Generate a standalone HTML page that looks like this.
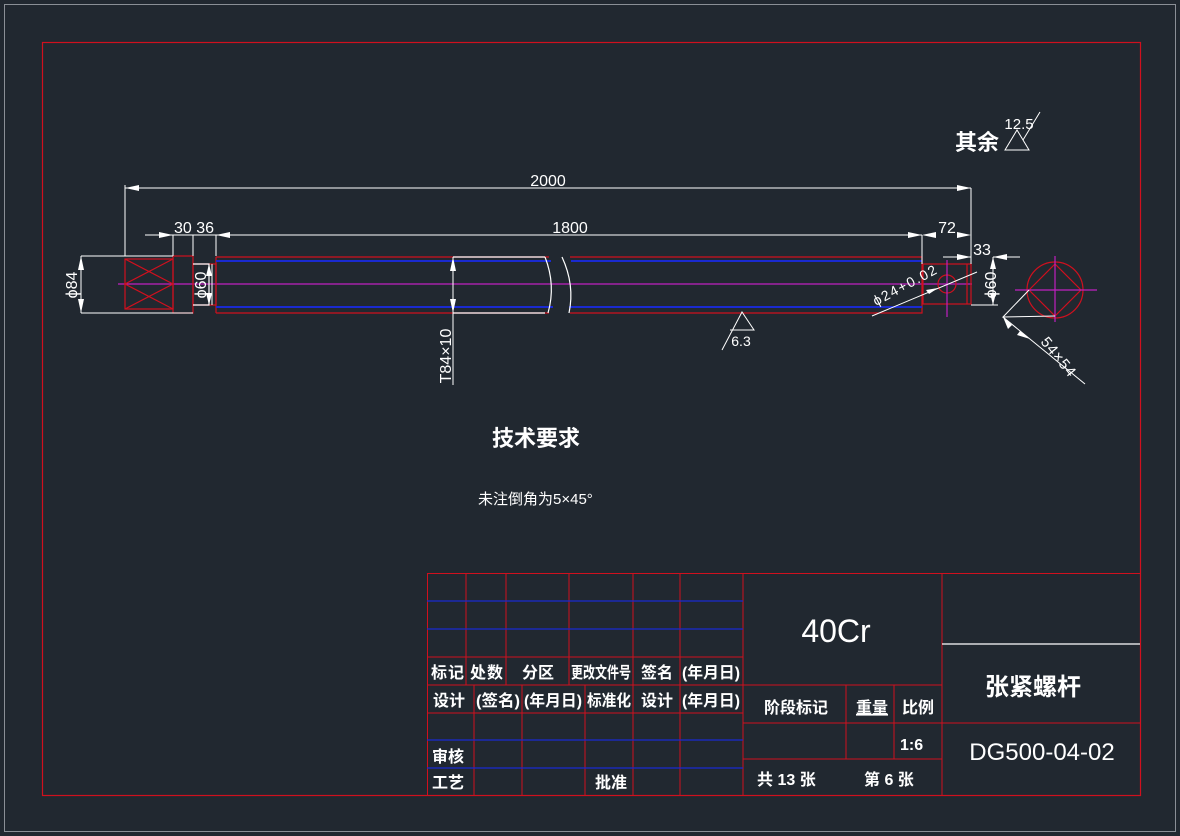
<!DOCTYPE html>
<html><head><meta charset="utf-8"><style>
html,body{margin:0;padding:0;background:#212830;}
svg{display:block}
text{font-family:"Liberation Sans Narrow","Liberation Sans","Noto Sans CJK SC",sans-serif;fill:#fff}
.tb{font-weight:bold}
</style></head><body>
<svg width="1180" height="836" viewBox="0 0 1180 836" xmlns="http://www.w3.org/2000/svg">
<rect width="1180" height="836" fill="#212830"/>
<rect x="4.5" y="4.5" width="1171" height="827" fill="none" stroke="#8a8f96" stroke-width="1"/>
<rect x="42.5" y="42.5" width="1098" height="753" fill="none" stroke="#d0101e" stroke-width="1.2"/>

<line x1="118" y1="284" x2="972" y2="284" stroke="#c020c0" stroke-width="1.2"/>

<g fill="none" stroke-width="1.2">
<rect x="125" y="259" width="48" height="50" stroke="#d0101e"/>
<path d="M125 259 L173 284 L125 309 M173 259 L125 284 L173 309" stroke="#d0101e"/>
<rect x="173" y="256" width="20" height="57" stroke="#d0101e"/>
<rect x="193" y="264" width="23" height="41" stroke="#d0101e"/>
<path d="M193 264 H209 V305 H193" stroke="#fff"/>
<path d="M216 257 H549 M216 313 H549 M216 257 V313" stroke="#d0101e"/>
<path d="M570 257 H922 V313 H570" stroke="#d0101e"/>
<path d="M216 261 H551 M216 307 H553 M571 261 H922 M569 307 H922" stroke="#1a2ad0" stroke-width="2"/>
<path d="M453 257 H545 M453 313 H545" stroke="#fff"/>
<path d="M545 257 Q556 285 548 313 M562 257 Q575 285 569 313" stroke="#fff"/>
<rect x="923" y="264" width="48" height="40" stroke="#d0101e"/>
<line x1="967" y1="264" x2="967" y2="304" stroke="#d0101e"/>
<circle cx="947" cy="284" r="9" stroke="#d0101e"/>
<line x1="947" y1="260" x2="947" y2="317" stroke="#c020c0"/>
<circle cx="1055" cy="290" r="28" stroke="#d0101e"/>
<path d="M1029 290 L1055 264 L1081 290 L1055 316 Z" stroke="#d0101e"/>
<path d="M1015 290 H1097 M1055 256 V322" stroke="#c020c0"/>
</g>

<g stroke="#fff" stroke-width="1" fill="none">
<path d="M125 256 V185 M125 188 H971 M971 188 V257"/>
<path d="M145 235 H922 M173 235 V256 M193 235 V256 M216 235 V256 M922 235 V264 M971 235 V264"/>
<path d="M81 256 H173 M81 313 H193 M81 256 V313"/>
<path d="M453 257 V385"/>
<path d="M212 264 V305"/>
<path d="M943 257 H971 M993 257 H1020 M971 305 H998 M993 257 V305"/>
<path d="M872 316 L977 272"/>
<path d="M1029 290 L1003 317 L1055 316 M1003 317 L1085 384"/>
<path d="M722 350 L742 312 L754 330 L730 330"/>
<path d="M1005 150 L1017 130 L1029 150 Z M1023 140 L1040 112"/>
</g>
<g fill="#fff">
<path d="M125 188 l14 -3 v6z M971 188 l-14 -3 v6z"/>
<path d="M173 235 l-14 -3 v6z M216 235 l14 -3 v6z M922 235 l-14 -3 v6z M922 235 l14 -3 v6z M971 235 l-14 -3 v6z"/>
<path d="M971 257 l-14 -3 v6z M993 257 l14 -3 v6z"/>
<path d="M81 256 l-3 14 h6z M81 313 l-3 -14 h6z M453 257 l-3 14 h6z M453 313 l-3 -14 h6z"/>
<path d="M209 264 l-3 12 h6z M209 305 l-3 -12 h6z M993 257 l-3 12 h6z M993 305 l-3 -12 h6z"/>
<path d="M938 288 l-12 2 l3 4z"/>
<path d="M1003 317 l5 12 l4 -4z M1030 339 l-10 -8 l-3 4z"/>
</g>

<g font-size="16">
<text x="548" y="186" text-anchor="middle">2000</text>
<text x="570" y="233" text-anchor="middle">1800</text>
<text x="194" y="233" text-anchor="middle">30 36</text>
<text x="947" y="233" text-anchor="middle">72</text>
<text x="982" y="255" text-anchor="middle">33</text>
<text x="741" y="346" text-anchor="middle" font-size="14">6.3</text>
<text x="1019" y="129" text-anchor="middle" font-size="15">12.5</text>
<text transform="translate(77,285) rotate(-90)" text-anchor="middle">ϕ84</text>
<text transform="translate(206,285) rotate(-90)" text-anchor="middle">ϕ60</text>
<text transform="translate(996,285) rotate(-90)" text-anchor="middle">ϕ60</text>
<text transform="translate(451,356) rotate(-90)" text-anchor="middle">T84×10</text>
<text transform="translate(876,306) rotate(-28)" font-size="14" textLength="70">ϕ24+0.02</text>
<text transform="translate(1040,342) rotate(51)" font-size="15" textLength="46">54×54</text>
</g>
<text x="955" y="150" font-size="22" class="tb">其余</text>
<text x="492" y="446" font-size="22" class="tb">技术要求</text>
<text x="478" y="504" font-size="15">未注倒角为5×45°</text>

<g fill="none" stroke="#d0101e" stroke-width="1">
<rect x="427.5" y="573.5" width="713" height="222"/>
<path d="M427 657 H743 M427 685 H743 M427 713 H743"/>
<path d="M466 573 V685 M506 573 V685 M569 573 V685 M633 573 V795 M680 573 V795 M743 573 V795"/>
<path d="M474 685 V795 M522 685 V795 M585 685 V795"/>
<path d="M743 685 H942 M743 723 H942 M743 759 H942 M846 685 V759 M894 685 V759 M942 573 V795 M942 723 H1140"/>
</g>
<g stroke="#1a2ad0" stroke-width="1.2">
<path d="M427 601 H743 M427 629 H743 M427 740 H743 M427 768 H743"/>
</g>
<line x1="942" y1="644" x2="1140" y2="644" stroke="#fff" stroke-width="1.2"/>
<g font-size="16" class="tb">
<text x="431" y="678" textLength="33">标记</text><text x="470" y="678" textLength="33">处数</text><text x="522" y="678">分区</text>
<text x="571" y="678" textLength="60" lengthAdjust="spacingAndGlyphs">更改文件号</text><text x="641" y="678">签名</text><text x="682" y="678" textLength="58" lengthAdjust="spacingAndGlyphs">(年月日)</text>
<text x="433" y="706">设计</text><text x="476" y="706" textLength="44" lengthAdjust="spacingAndGlyphs">(签名)</text><text x="524" y="706" textLength="58" lengthAdjust="spacingAndGlyphs">(年月日)</text>
<text x="587" y="706" textLength="44" lengthAdjust="spacingAndGlyphs">标准化</text><text x="641" y="706">设计</text><text x="682" y="706" textLength="58" lengthAdjust="spacingAndGlyphs">(年月日)</text>
<text x="432" y="762">审核</text><text x="432" y="788">工艺</text><text x="595" y="788">批准</text>
<text x="764" y="713">阶段标记</text><text x="856" y="713" text-decoration="underline">重量</text><text x="902" y="713">比例</text>
<text x="900" y="750">1:6</text>
<text x="757" y="785">共 13 张</text><text x="864" y="785">第 6 张</text>
</g>
<text x="836" y="642" font-size="32" text-anchor="middle">40Cr</text>
<text x="1033" y="695" font-size="24" text-anchor="middle" class="tb">张紧螺杆</text>
<text x="1042" y="760" font-size="24" text-anchor="middle">DG500-04-02</text>
</svg>
</body></html>
